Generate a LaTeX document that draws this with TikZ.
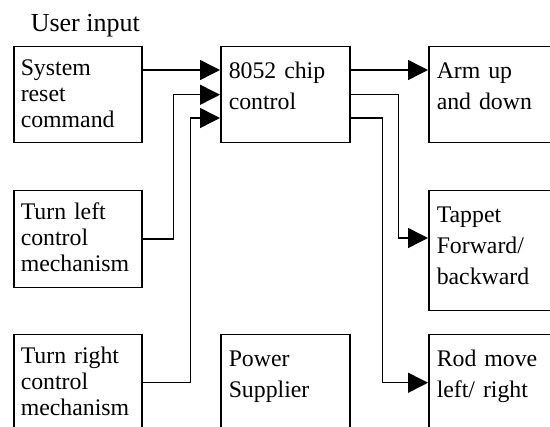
\documentclass[tikz,border=0pt]{standalone}
\usepackage{fontspec}
\setmainfont{Liberation Serif}
\usetikzlibrary{arrows.meta,calc}

\begin{document}
\begin{tikzpicture}[x=1pt, y=-1pt, line width=1.5pt,
  blk/.style={draw, anchor=north west, align=left, inner ysep=0pt, inner xsep=7pt, text width=114pt},
  lcol/.style={blk, font=\fontsize{23.8}{26}\selectfont, text height=29pt},
  rcol/.style={blk, inner xsep=8pt, text width=113pt, font=\fontsize{23.8}{31}\selectfont, text height=32pt},
  arr/.style={-{Triangle[length=20pt,width=20pt]}}]
\useasboundingbox (0,0) rectangle (550,427);
\clip (0,0) rectangle (550,427);
\node[anchor=base west, inner sep=0pt, font=\fontsize{26}{30}\selectfont] (title) at (30,32) {User input};
% inputs
\node[lcol, text depth=67pt] (reset) at (13,46) {System\\reset\\command};
\node[lcol, text depth=68pt] (left) at (13,190) {Turn left\\control\\mechanism};
\node[lcol, text depth=67pt] (right) at (13,334) {Turn right\\control\\mechanism};
% controller and supply
\node[rcol, text depth=64pt] (chip) at (220,46) {8052 chip\\control};
\node[rcol, text depth=64pt] (power) at (220,334) {Power\\Supplier};
% outputs
\node[rcol, text depth=64pt] (arm) at (428,46) {Arm up\\and down};
\node[rcol, text depth=88pt] (tappet) at (428,190) {Tappet\\Forward/\\backward};
\node[rcol, text depth=64pt] (rod) at (428,334) {Rod move\\left/ right};
\draw[arr] ($(reset.north east)+(0,24)$) -- ($(chip.north west)+(0,24)$);
\draw[arr] (left.east) -- ++(31,0) |- (chip.west);
\draw[arr] (right.east) -- ++(48,0) |- ($(chip.north west)+(0,72)$);
\draw[arr] ($(chip.north east)+(0,24)$) -- ($(arm.north west)+(0,24)$);
\draw[arr] (chip.east) -- ++(48,0) |- ($(tappet.north west)+(0,48)$);
\draw[arr] ($(chip.north east)+(0,72)$) -- ++(32,0) |- (rod.west);
\end{tikzpicture}
\end{document}
